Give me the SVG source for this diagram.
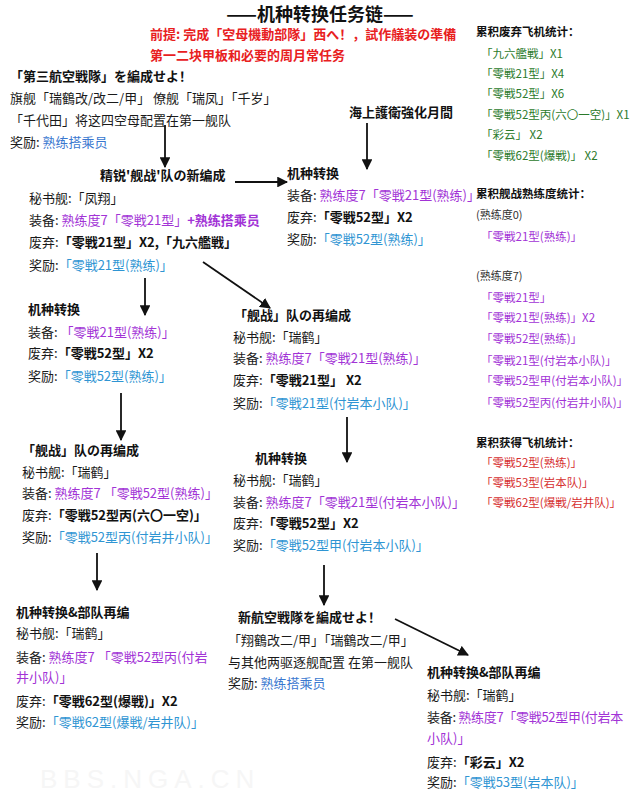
<svg xmlns="http://www.w3.org/2000/svg" width="631" height="796" viewBox="0 0 631 796">
<defs>
<style>
text{font-family:"Noto Sans CJK SC","Noto Sans CJK JP",sans-serif;font-size:13px;fill:#1a1a1a}
.b{font-weight:bold;fill:#111}
.title{font-size:18px;font-weight:bold;fill:#111}
.red{font-weight:bold;fill:#e8201e}
.p{fill:#a233d6}
.pb{fill:#a233d6;font-weight:bold}
.bl{fill:#2f95d3}
.db{fill:#3a78d0}
.s{font-size:11.5px}
.g{fill:#2b7a2b}
.r{fill:#d63030}
.sm{font-size:11px;fill:#333}
.wm{font-family:"Liberation Sans",sans-serif;font-size:26px;fill:#f6f6f6;letter-spacing:6px}
.arr{stroke:#111;stroke-width:1.8;fill:none;marker-end:url(#ah)}
</style>
<marker id="ah" viewBox="0 0 10 10" refX="9" refY="5" markerWidth="6" markerHeight="6" markerUnits="strokeWidth" orient="auto">
<path d="M0,0 L10,5 L0,10 z" fill="#111"/>
</marker>
</defs>
<rect width="631" height="796" fill="#fff"/>
<text class="wm" x="40" y="788">BBS.NGA.CN</text>

<g id="title"><text class="title" x="320" y="21" text-anchor="middle">——机种转换任务链——</text></g>
<g id="prereq">
<text class="red" x="150" y="39">前提: 完成「空母機動部隊」西へ！，試作艤装の準備</text>
<text class="red" x="150" y="60">第一二块甲板和必要的周月常任务</text>
</g>

<g id="n1">
<text class="b" x="10" y="81">「第三航空戦隊」を編成せよ！</text>
<text x="10" y="103">旗舰「瑞鶴改/改二/甲」 僚舰「瑞凤」「千岁」</text>
<text x="10" y="125">「千代田」将这四空母配置在第一舰队</text>
<text x="10" y="147">奖励: <tspan class="db">熟练搭乘员</tspan></text>
</g>

<g id="n2"><text class="b" x="349" y="117">海上護衛強化月間</text></g>

<g id="n3">
<text class="b" x="100" y="180">精锐'舰战'队の新编成</text>
<text x="29" y="203">秘书舰:「凤翔」</text>
<text x="29" y="225">装备: <tspan class="p">熟练度7「零戦21型」</tspan><tspan class="pb">+熟练搭乘员</tspan></text>
<text x="29" y="247">废弃:<tspan class="b">「零戦21型」X2,「九六艦戦」</tspan></text>
<text x="29" y="270">奖励:<tspan class="bl">「零戦21型(熟练)」</tspan></text>
</g>

<g id="n4">
<text class="b" x="287" y="178">机种转换</text>
<text x="287" y="200">装备: <tspan class="p">熟练度7「零戦21型(熟练)」</tspan></text>
<text x="287" y="222">废弃:<tspan class="b">「零戦52型」X2</tspan></text>
<text x="287" y="244">奖励:<tspan class="bl">「零戦52型(熟练)」</tspan></text>
</g>

<g id="n5">
<text class="b" x="28" y="314">机种转换</text>
<text x="28" y="337">装备: <tspan class="p">「零戦21型(熟练)」</tspan></text>
<text x="28" y="358">废弃:<tspan class="b">「零戦52型」X2</tspan></text>
<text x="28" y="381">奖励:<tspan class="bl">「零戦52型(熟练)」</tspan></text>
</g>

<g id="n6">
<text class="b" x="22" y="455">「舰战」队の再编成</text>
<text x="22" y="477">秘书舰:「瑞鹤」</text>
<text x="22" y="498">装备: <tspan class="p">熟练度7 「零戦52型(熟练)」</tspan></text>
<text x="22" y="520">废弃:<tspan class="b">「零戦52型丙(六〇一空)」</tspan></text>
<text x="22" y="542">奖励:<tspan class="bl">「零戦52型丙(付岩井小队)」</tspan></text>
</g>

<g id="n7">
<text class="b" x="234" y="320">「舰战」队の再编成</text>
<text x="233" y="342">秘书舰:「瑞鹤」</text>
<text x="233" y="363">装备: <tspan class="p">熟练度7「零戦21型(熟练)」</tspan></text>
<text x="233" y="385">废弃:<tspan class="b">「零戦21型」 X2</tspan></text>
<text x="233" y="408">奖励:<tspan class="bl">「零戦21型(付岩本小队)」</tspan></text>
</g>

<g id="n8">
<text class="b" x="255" y="463">机种转换</text>
<text x="233" y="485">秘书舰:「瑞鹤」</text>
<text x="233" y="507">装备: <tspan class="p">熟练度7「零戦21型(付岩本小队)」</tspan></text>
<text x="233" y="528">废弃:<tspan class="b">「零戦52型」X2</tspan></text>
<text x="233" y="550">奖励:<tspan class="bl">「零戦52型甲(付岩本小队)」</tspan></text>
</g>

<g id="n9">
<text class="b" x="16" y="617">机种转换&amp;部队再编</text>
<text x="16" y="638">秘书舰:「瑞鹤」</text>
<text x="16" y="662">装备: <tspan class="p">熟练度7 「零戦52型丙(付岩</tspan></text>
<text class="p" x="16" y="682">井小队)」</text>
<text x="16" y="706">废弃:<tspan class="b">「零戦62型(爆戦)」X2</tspan></text>
<text x="16" y="727">奖励:<tspan class="bl">「零戦62型(爆戦/岩井队)」</tspan></text>
</g>

<g id="n10">
<text class="b" x="238" y="622">新航空戦隊を編成せよ！</text>
<text x="228" y="645">「翔鶴改二/甲」「瑞鶴改二/甲」</text>
<text x="228" y="667">与其他两驱逐舰配置 在第一舰队</text>
<text x="228" y="688">奖励: <tspan class="db">熟练搭乘员</tspan></text>
</g>

<g id="n11">
<text class="b" x="427" y="677">机种转换&amp;部队再编</text>
<text x="427" y="700">秘书舰:「瑞鹤」</text>
<text x="427" y="722" letter-spacing="-0.3">装备: <tspan class="p">熟练度7「零戦52型甲(付岩本</tspan></text>
<text class="p" x="427" y="743">小队)」</text>
<text x="427" y="767">废弃:<tspan class="b">「彩云」X2</tspan></text>
<text x="427" y="787">奖励:<tspan class="bl">「零戦53型(岩本队)」</tspan></text>
</g>

<g id="stat-discard">
<text class="b s" x="476" y="36">累积废弃飞机统计：</text>
<text class="s g" x="481" y="58">「九六艦戦」X1</text>
<text class="s g" x="481" y="78">「零戦21型」X4</text>
<text class="s g" x="481" y="98">「零戦52型」X6</text>
<text class="s g" x="481" y="119">「零戦52型丙(六〇一空)」X1</text>
<text class="s g" x="481" y="139">「彩云」 X2</text>
<text class="s g" x="481" y="160">「零戦62型(爆戦)」 X2</text>
</g>

<g id="stat-skill">
<text class="b s" x="476" y="198">累积舰战熟练度统计：</text>
<text class="sm" x="476" y="219">(熟练度0)</text>
<text class="s p" x="481" y="241">「零戦21型(熟练)」</text>
<text class="sm" x="476" y="280">(熟练度7)</text>
<text class="s p" x="481" y="302">「零戦21型」</text>
<text class="s p" x="481" y="322">「零戦21型(熟练)」X2</text>
<text class="s p" x="481" y="343">「零戦52型(熟练)」</text>
<text class="s p" x="481" y="365">「零戦21型(付岩本小队)」</text>
<text class="s p" x="481" y="385">「零戦52型甲(付岩本小队)」</text>
<text class="s p" x="481" y="407">「零戦52型丙(付岩井小队)」</text>
</g>

<g id="stat-gain">
<text class="b s" x="476" y="447">累积获得飞机统计：</text>
<text class="s r" x="481" y="467">「零戦52型(熟练)」</text>
<text class="s r" x="481" y="487">「零戦53型(岩本队)」</text>
<text class="s r" x="481" y="507">「零戦62型(爆戦/岩井队)」</text>
</g>

<g id="connectors">
<line class="arr" x1="165" y1="125" x2="165" y2="167"/>
<line class="arr" x1="367" y1="123" x2="367" y2="169"/>
<line class="arr" x1="235" y1="182" x2="287" y2="182"/>
<line class="arr" x1="145" y1="278" x2="145" y2="315"/>
<line class="arr" x1="203" y1="262" x2="270" y2="308"/>
<line class="arr" x1="121" y1="393" x2="121" y2="440"/>
<line class="arr" x1="347" y1="417" x2="347" y2="462"/>
<line class="arr" x1="97" y1="553" x2="97" y2="590"/>
<line class="arr" x1="324" y1="565" x2="324" y2="605"/>
<line class="arr" x1="395" y1="619" x2="468" y2="655"/>
</g>
</svg>
